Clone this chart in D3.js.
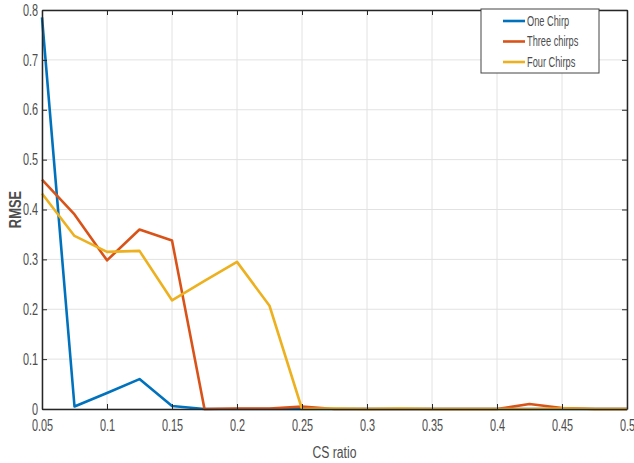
<!DOCTYPE html>
<html>
<head>
<meta charset="utf-8">
<script src="https://cdn.jsdelivr.net/npm/d3@7"></script>
<style>
  body { margin: 0; background: #fff; }
  svg { display: block; }
  text { font-family: "Liberation Sans", Arial, sans-serif; fill: #4d4d4d; }
</style>
</head>
<body>
<svg id="chart" width="634" height="463"></svg>
<script>
// CS ratio sampled every 0.025
const csRatio = [0.05, 0.075, 0.1, 0.125, 0.15, 0.175, 0.2, 0.225, 0.25, 0.275,
                 0.3, 0.325, 0.35, 0.375, 0.4, 0.425, 0.45, 0.475, 0.5];

const oneChirp    = [0.785, 0.005, 0.032, 0.060, 0.006, 0.000, 0.000, 0.000, 0.000, 0.000,
                     0.000, 0.000, 0.000, 0.000, 0.000, 0.000, 0.000, 0.000, 0.000];
const threeChirps = [0.460, 0.390, 0.298, 0.360, 0.338, 0.000, 0.001, 0.001, 0.005, 0.000,
                     0.000, 0.000, 0.000, 0.000, 0.000, 0.010, 0.002, 0.000, 0.000];
const fourChirps  = [0.432, 0.347, 0.315, 0.317, 0.218, 0.257, 0.295, 0.207, 0.000, 0.001,
                     0.000, 0.001, 0.000, 0.000, 0.000, 0.000, 0.001, 0.000, 0.000];

const seriesNames = ["One Chirp", "Three chirps", "Four Chirps"];
const seriesColors = ["#0072BD", "#D95319", "#EDB120"];

const xTicks = [0.05, 0.1, 0.15, 0.2, 0.25, 0.3, 0.35, 0.4, 0.45, 0.5];
const yTicks = [0, 0.1, 0.2, 0.3, 0.4, 0.5, 0.6, 0.7, 0.8];

const svg = d3.select("#chart");
const m = { left: 42, right: 7, top: 10, bottom: 54 };
const W = 634, H = 463;
const pw = W - m.left - m.right, ph = H - m.top - m.bottom;

const x = d3.scaleLinear().domain([0.05, 0.5]).range([m.left, m.left + pw]);
const y = d3.scaleLinear().domain([0, 0.8]).range([m.top + ph, m.top]);

// narrow the glyphs horizontally while keeping each text's anchor point in place
function condense(sel, f) {
  sel.each(function () {
    const t = d3.select(this);
    const xv = +(t.attr("x") || 0);
    const prev = t.attr("transform") || "";
    t.attr("x", xv / f).attr("transform", (prev + ` scale(${f},1)`).trim());
  });
}

// grid
const grid = svg.append("g");
grid.selectAll(".gx").data(xTicks).join("line")
  .attr("x1", d => x(d)).attr("x2", d => x(d))
  .attr("y1", m.top).attr("y2", m.top + ph)
  .attr("stroke", "#e2e2e2").attr("stroke-width", 1);
grid.selectAll(".gy").data(yTicks).join("line")
  .attr("x1", m.left).attr("x2", m.left + pw)
  .attr("y1", d => y(d)).attr("y2", d => y(d))
  .attr("stroke", "#e2e2e2").attr("stroke-width", 1);

// lines
const data = [oneChirp, threeChirps, fourChirps];
const line = d3.line().x((d, i) => x(csRatio[i])).y(d => y(d));
const plot = svg.append("g");
data.forEach((vals, k) => {
  plot.append("path").datum(vals)
    .attr("d", line)
    .attr("fill", "none")
    .attr("stroke", seriesColors[k])
    .attr("stroke-width", 2.6)
    .attr("stroke-linejoin", "round");
});

// axes (box with inward ticks)
const axisColor = "#262626";
const fmt = d => String(+d.toFixed(2));
const xAxis = svg.append("g").attr("transform", `translate(0,${m.top + ph})`)
  .call(d3.axisBottom(x).tickValues(xTicks).tickFormat(fmt).tickSizeInner(-5).tickSizeOuter(0).tickPadding(11));
const xAxisTop = svg.append("g").attr("transform", `translate(0,${m.top})`)
  .call(d3.axisTop(x).tickValues(xTicks).tickFormat("").tickSizeInner(-5).tickSizeOuter(0));
const yAxis = svg.append("g").attr("transform", `translate(${m.left},0)`)
  .call(d3.axisLeft(y).tickValues(yTicks).tickFormat(fmt).tickSizeInner(-5).tickSizeOuter(0).tickPadding(4));
const yAxisR = svg.append("g").attr("transform", `translate(${m.left + pw},0)`)
  .call(d3.axisRight(y).tickValues(yTicks).tickFormat("").tickSizeInner(-5).tickSizeOuter(0));
[xAxis, xAxisTop, yAxis, yAxisR].forEach(g => {
  g.select(".domain").attr("stroke", axisColor).attr("stroke-width", 1.5);
  g.selectAll(".tick line").attr("stroke", axisColor);
  g.selectAll("text").attr("font-size", 16).attr("fill", "#4d4d4d")
    .style("font-family", '"Liberation Sans", Arial, sans-serif');
});
condense(xAxis.selectAll("text"), 0.68);
condense(yAxis.selectAll("text"), 0.68);

// axis titles
svg.append("text").attr("x", x(0.275)).attr("y", 458)
  .attr("text-anchor", "middle").attr("font-size", 16).attr("fill", "#333")
  .text("CS ratio")
  .call(s => condense(s, 0.76));
svg.append("text").attr("transform", `translate(21,${y(0.4)}) rotate(-90)`)
  .attr("text-anchor", "middle").attr("font-size", 17).attr("font-weight", "bold")
  .attr("fill", "#333")
  .text("RMSE")
  .call(s => condense(s, 0.76));

// legend
const lg = svg.append("g").attr("transform", "translate(481,9)");
lg.append("rect").attr("width", 118).attr("height", 64)
  .attr("fill", "#fff").attr("stroke", "#444").attr("stroke-width", 1);
seriesNames.forEach((name, k) => {
  const yy = 12 + k * 20.5;
  lg.append("line").attr("x1", 22).attr("x2", 44).attr("y1", yy).attr("y2", yy)
    .attr("stroke", seriesColors[k]).attr("stroke-width", 2.6);
  lg.append("text").attr("x", 46).attr("y", yy + 5).attr("font-size", 14)
    .attr("fill", "#111").text(name)
    .call(s => condense(s, 0.66));
});
</script>
</body>
</html>
